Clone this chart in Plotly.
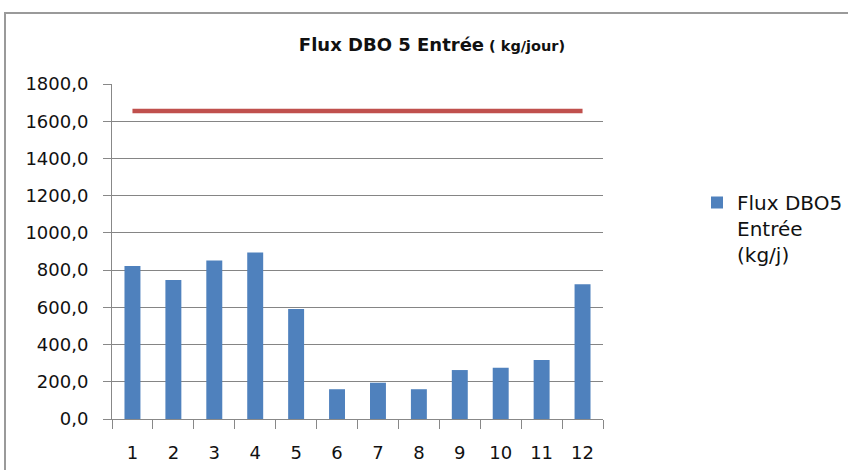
import plotly.graph_objects as go

months = ["1", "2", "3", "4", "5", "6", "7", "8", "9", "10", "11", "12"]
flux_dbo5 = [822, 747, 851, 894, 591, 160, 195, 160, 263, 276, 317, 724]
capacity = [1655] * 12
y_ticks = [0, 200, 400, 600, 800, 1000, 1200, 1400, 1600, 1800]

FONT = "DejaVu Sans"
W, H = 848, 470
L, R, T, B = 112, 603, 84, 419
pw, ph = R - L, B - T

fig = go.Figure()
fig.add_trace(go.Bar(
    x=months, y=flux_dbo5, name="Flux DBO5<br>Entrée<br>(kg/j)",
    marker=dict(color="#4F81BD", line=dict(color="#4F81BD", width=0)),
))
fig.add_trace(go.Scatter(
    x=months, y=capacity, mode="lines", showlegend=False,
    line=dict(color="#C0504D", width=4.5),
))

fig.update_layout(
    width=W, height=H,
    margin=dict(l=L, r=W - R, t=T, b=H - B),
    paper_bgcolor="white", plot_bgcolor="white",
    separators=", ",
    bargap=0.61,
    font=dict(family=FONT, color="#222222"),
    title=dict(
        text="<b>Flux DBO 5 Entrée</b><b><span style='font-size:14.5px'> ( kg/jour)</span></b>",
        x=432 / W, xanchor="center", y=1 - 45 / H, yanchor="middle",
        font=dict(family=FONT, size=18, color="#111111"),
    ),
    xaxis=dict(
        type="category", showgrid=False, showline=True, linecolor="#888888", linewidth=1,
        ticks="outside", tickson="boundaries", ticklen=9, tickcolor="#888888",
        tickfont=dict(family=FONT, size=18, color="#111111"),
        ticklabelstandoff=17, automargin=False,
    ),
    yaxis=dict(
        range=[0, 1800], tickvals=y_ticks, tickformat=".1f",
        showgrid=True, gridcolor="#858585", gridwidth=1,
        showline=True, linecolor="#888888", linewidth=1,
        ticks="outside", ticklen=8, tickcolor="#888888",
        tickfont=dict(family=FONT, size=18, color="#111111"),
        zeroline=False, ticklabelstandoff=11, automargin=False,
    ),
    legend=dict(
        xref="container", yref="container",
        x=697 / W, xanchor="left", y=1 - 183 / H, yanchor="top",
        font=dict(family=FONT, size=20, color="#111111"),
        itemwidth=30, bgcolor="rgba(0,0,0,0)", valign="top",
    ),
    showlegend=True,
)

# outer chart-area border
fig.add_shape(
    type="rect", xref="paper", yref="paper", layer="above",
    x0=(5 - L) / pw, x1=(W + 20 - L) / pw,
    y0=-(H + 20 - B) / ph, y1=1 + (T - 13) / ph,
    line=dict(color="#9a9a9a", width=2), fillcolor="rgba(0,0,0,0)",
)

fig.write_html(
    "out.html",
    config={"displayModeBar": False},
    post_script="document.body.style.margin='0';document.body.style.overflow='hidden';",
)
